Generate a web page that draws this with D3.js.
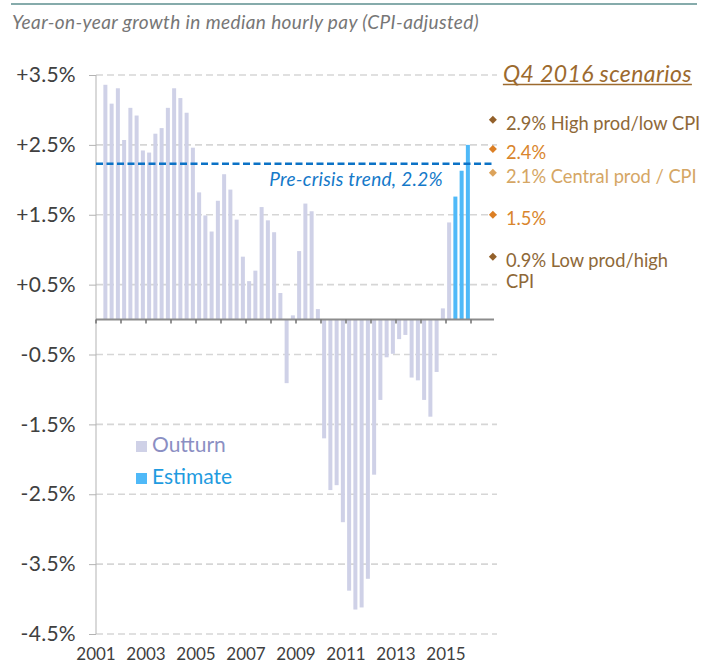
<!DOCTYPE html>
<html><head><meta charset="utf-8">
<script src="https://cdn.jsdelivr.net/npm/d3@7"></script>
<style>body{margin:0;background:#fff} svg{display:block}</style>
</head><body>
<svg id="c" width="707" height="665"></svg>
<script>
// ---------------- data ----------------
const years = [2001,2002,2003,2004,2005,2006,2007,2008,2009,2010,2011,2012,2013,2014,2015,2016];
const quarterNames = ["Q1","Q2","Q3","Q4"];
const quarters = years.flatMap(yr => quarterNames.map(q => yr + " " + q));
const firstDataQuarter = "2001 Q2";
const outturn = [3.36,3.09,3.31,2.57,3.03,2.92,2.42,2.39,2.66,2.74,3.03,3.31,3.17,2.96,2.46,1.82,
  1.49,1.26,1.70,2.08,1.86,1.43,0.90,0.55,0.70,1.61,1.42,1.25,0.38,-0.91,0.06,0.98,1.66,1.55,0.15,
  -1.70,-2.44,-2.37,-2.90,-3.88,-4.15,-4.12,-3.71,-2.22,-1.15,-0.54,-0.49,-0.28,-0.22,-0.83,-0.87,
  -1.15,-1.39,-0.75,0.16,1.39];
const estimate = [1.76,2.13,2.50];
const yTicks = [3.5,2.5,1.5,0.5,-0.5,-1.5,-2.5,-3.5,-4.5];
const xTickYears = [2001,2002,2003,2004,2005,2006,2007,2008,2009,2010,2011,2012,2013,2014,2015,2016];
const xLabelYears = [2001,2003,2005,2007,2009,2011,2013,2015];
const trendValue = 2.23;
const trendLabel = "Pre-crisis trend, 2.2%";
const scenarioQuarter = "2016 Q4";
const scenarioTitle = "Q4 2016 scenarios";
const scenarioValues = [2.86,2.44,2.1,1.5,0.9];
const scenarioLabels = [["2.9% High prod/low CPI"],["2.4%"],["2.1% Central prod / CPI"],["1.5%"],["0.9% Low prod/high","CPI"]];
const legendItems = ["Outturn","Estimate"];
const title = "Year-on-year growth in median hourly pay (CPI-adjusted)";

// ---------------- styles ----------------
const FONT = "Lato, 'Open Sans', sans-serif";
const C = {
  outturn:"#cfd1e7", estimate:"#4fb9f8", outturnText:"#8b8fc3", estimateText:"#1f9be0",
  grid:"#d6d6d6", axis:"#8c8c8c", yaxis:"#b3b3b3", tick:"#404040", trend:"#0b72c6", trendText:"#1479c9",
  title:"#767676", scenTitle:"#9c6a2e"
};
const scenDiamond = ["#93602a","#dc7f24","#dca35b","#dc7f24","#93602a"];
const scenText = ["#8e6838","#d9852c","#d5a664","#d9852c","#8e6838"];

const svg = d3.select("#c");
const x = d3.scaleBand().domain(quarters).range([96,496]).paddingInner(0.36).paddingOuter(0.18);
const y = d3.scaleLinear().domain([-4.5,3.5]).range([634,75]);
const gap = (x.step()-x.bandwidth())/2;
const boundary = yr => x(yr+" Q1") - gap;

// top rule
svg.append("line").attr("x1",11).attr("x2",697).attr("y1",4).attr("y2",4)
  .attr("stroke","#5e8f8f").attr("stroke-width",1.5);
// title
svg.append("text").attr("x",12).attr("y",29).text(title)
  .attr("font-family",FONT).attr("font-style","italic").attr("font-size",19)
  .attr("letter-spacing",0.4).attr("fill",C.title);

// gridlines
svg.append("g").selectAll("line").data(yTicks).join("line")
  .attr("x1",96).attr("x2",497).attr("y1",d=>y(d)).attr("y2",d=>y(d))
  .attr("stroke",C.grid).attr("stroke-width",1.6).attr("stroke-dasharray","7,4");

// y axis
const fmt = d => (d>0?"+":"") + d.toFixed(1) + "%";
const yAxis = svg.append("g").attr("transform","translate(96,0)")
  .call(d3.axisLeft(y).tickValues(yTicks).tickSize(7).tickPadding(13).tickFormat(fmt));
yAxis.select(".domain").remove();
yAxis.selectAll(".tick line").attr("stroke",C.yaxis);
yAxis.selectAll(".tick text").attr("font-family",FONT).attr("font-size",21)
  .attr("letter-spacing",0.3).attr("fill",C.tick);
svg.append("line").attr("x1",96).attr("x2",96).attr("y1",y(3.5)).attr("y2",y(-4.5))
  .attr("stroke",C.yaxis).attr("stroke-width",1);

// bars
const startIdx = quarters.indexOf(firstDataQuarter);
const bars = outturn.map((v,i)=>({q:quarters[startIdx+i],v,t:"outturn"}))
  .concat(estimate.map((v,i)=>({q:quarters[startIdx+outturn.length+i],v,t:"estimate"})));
svg.append("g").selectAll("rect").data(bars).join("rect")
  .attr("x",d=>x(d.q)).attr("width",x.bandwidth())
  .attr("y",d=>y(Math.max(0,d.v))).attr("height",d=>Math.abs(y(d.v)-y(0)))
  .attr("fill",d=>C[d.t]);

// zero axis
svg.append("line").attr("x1",96).attr("x2",494).attr("y1",y(0)).attr("y2",y(0))
  .attr("stroke",C.axis).attr("stroke-width",2);
svg.append("g").selectAll("line").data(xTickYears).join("line")
  .attr("x1",d=>boundary(d)).attr("x2",d=>boundary(d)).attr("y1",y(0)).attr("y2",y(0)+4)
  .attr("stroke","#707070").attr("stroke-width",1.5);
svg.append("g").selectAll("text").data(xLabelYears).join("text")
  .attr("x",d=>boundary(d)).attr("y",660).attr("text-anchor","middle").text(d=>d)
  .attr("font-family",FONT).attr("font-size",17).attr("fill",C.tick);

// trend line
svg.append("line").attr("x1",96).attr("x2",493).attr("y1",y(trendValue)).attr("y2",y(trendValue))
  .attr("stroke",C.trend).attr("stroke-width",2.6).attr("stroke-dasharray","7,3.5");
svg.append("text").attr("x",443).attr("y",186).attr("text-anchor","end").text(trendLabel)
  .attr("font-family",FONT).attr("font-style","italic").attr("font-size",19)
  .attr("letter-spacing",0.3).attr("fill",C.trendText);

// legend
const lg = svg.append("g").selectAll("g").data(legendItems).join("g")
  .attr("transform",(d,i)=>`translate(136,${441+i*32})`);
lg.append("rect").attr("width",11).attr("height",11).attr("fill",(d,i)=>i?C.estimate:C.outturn);
lg.append("text").attr("x",16).attr("y",11).text(d=>d)
  .attr("font-family",FONT).attr("font-size",21).attr("fill",(d,i)=>i?C.estimateText:C.outturnText);

// scenarios
const sx = x(scenarioQuarter)+x.bandwidth()/2;
const st = svg.append("text").attr("x",sx+10).attr("y",82).text(scenarioTitle)
  .attr("font-family",FONT).attr("font-style","italic").attr("font-size",23)
  .attr("letter-spacing",0.4).attr("fill",C.scenTitle);
const bb = st.node().getBBox();
svg.append("line").attr("x1",bb.x).attr("x2",bb.x+bb.width).attr("y1",84.5).attr("y2",84.5)
  .attr("stroke",C.scenTitle).attr("stroke-width",1.3);
const sg = svg.append("g").selectAll("g").data(scenarioValues).join("g");
sg.append("path").attr("d",d3.symbol(d3.symbolSquare,32)())
  .attr("transform",d=>`translate(${sx},${y(d)}) rotate(45)`)
  .attr("fill",(d,i)=>scenDiamond[i]);
sg.append("text").attr("x",sx+13).attr("y",d=>y(d)+3+7)
  .attr("font-family",FONT).attr("font-size",18.3).attr("fill",(d,i)=>scenText[i])
  .selectAll("tspan").data((d,i)=>scenarioLabels[i]).join("tspan")
  .attr("x",sx+13).attr("dy",(d,j)=>j?21:0).text(d=>d);
</script>
</body></html>
